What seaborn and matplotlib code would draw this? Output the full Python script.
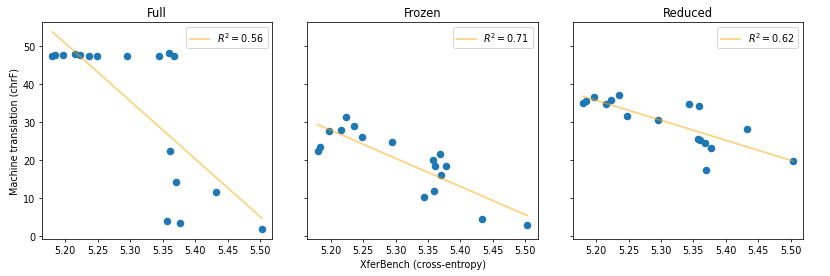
import matplotlib
matplotlib.use("Agg")
import matplotlib.pyplot as plt
import seaborn as sns
import numpy as np
import pandas as pd

xferbench = [5.180, 5.184, 5.197, 5.215, 5.223, 5.236, 5.248, 5.295, 5.344,
             5.357, 5.359, 5.361, 5.368, 5.370, 5.377, 5.433, 5.503]
full = [47.5, 47.7, 47.8, 48.0, 47.8, 47.6, 47.5, 47.6, 47.4,
        4.0, 48.2, 22.5, 47.6, 14.3, 3.3, 11.5, 1.8]
frozen = [22.3, 23.4, 27.7, 27.9, 31.4, 29.1, 26.0, 24.7, 10.4,
          20.0, 12.0, 18.5, 21.6, 16.2, 18.5, 4.4, 3.0]
reduced = [35.2, 35.7, 36.7, 34.8, 35.8, 37.3, 31.7, 30.7, 34.9,
           25.6, 34.3, 25.3, 24.6, 17.3, 23.3, 28.1, 19.7]
panels = ["Full", "Frozen", "Reduced"]
r2_labels = ["0.56", "0.71", "0.62"]

fig, axes = plt.subplots(1, 3, figsize=(12, 4), dpi=830 / 12, sharex=True, sharey=True)
fig.subplots_adjust(left=0.0506, right=0.9675, top=0.918, bottom=0.1336, wspace=0.152)

for ax, name, ys, r2 in zip(axes, panels, [full, frozen, reduced], r2_labels):
    df = pd.DataFrame({"x": xferbench, "y": ys})
    sns.regplot(data=df, x="x", y="y", ax=ax, ci=None,
                scatter_kws={"color": "#1f77b4", "s": 62, "alpha": 1, "linewidths": 0},
                line_kws={"color": "orange", "alpha": 0.5, "lw": 1.8,
                          "label": f"$R^2 = {r2}$"})
    ax.set_title(name)
    ax.set_xlabel("")
    ax.set_ylabel("")
    ax.legend(handles=[ax.lines[0]], loc="upper right")

axes[0].set_ylabel("Machine translation (chrF)")
axes[1].set_xlabel("XferBench (cross-entropy)")
axes[0].set_xticks([5.20, 5.25, 5.30, 5.35, 5.40, 5.45, 5.50])
axes[0].set_yticks([0, 10, 20, 30, 40, 50])

fig.savefig("out.png", dpi=830 / 12)
